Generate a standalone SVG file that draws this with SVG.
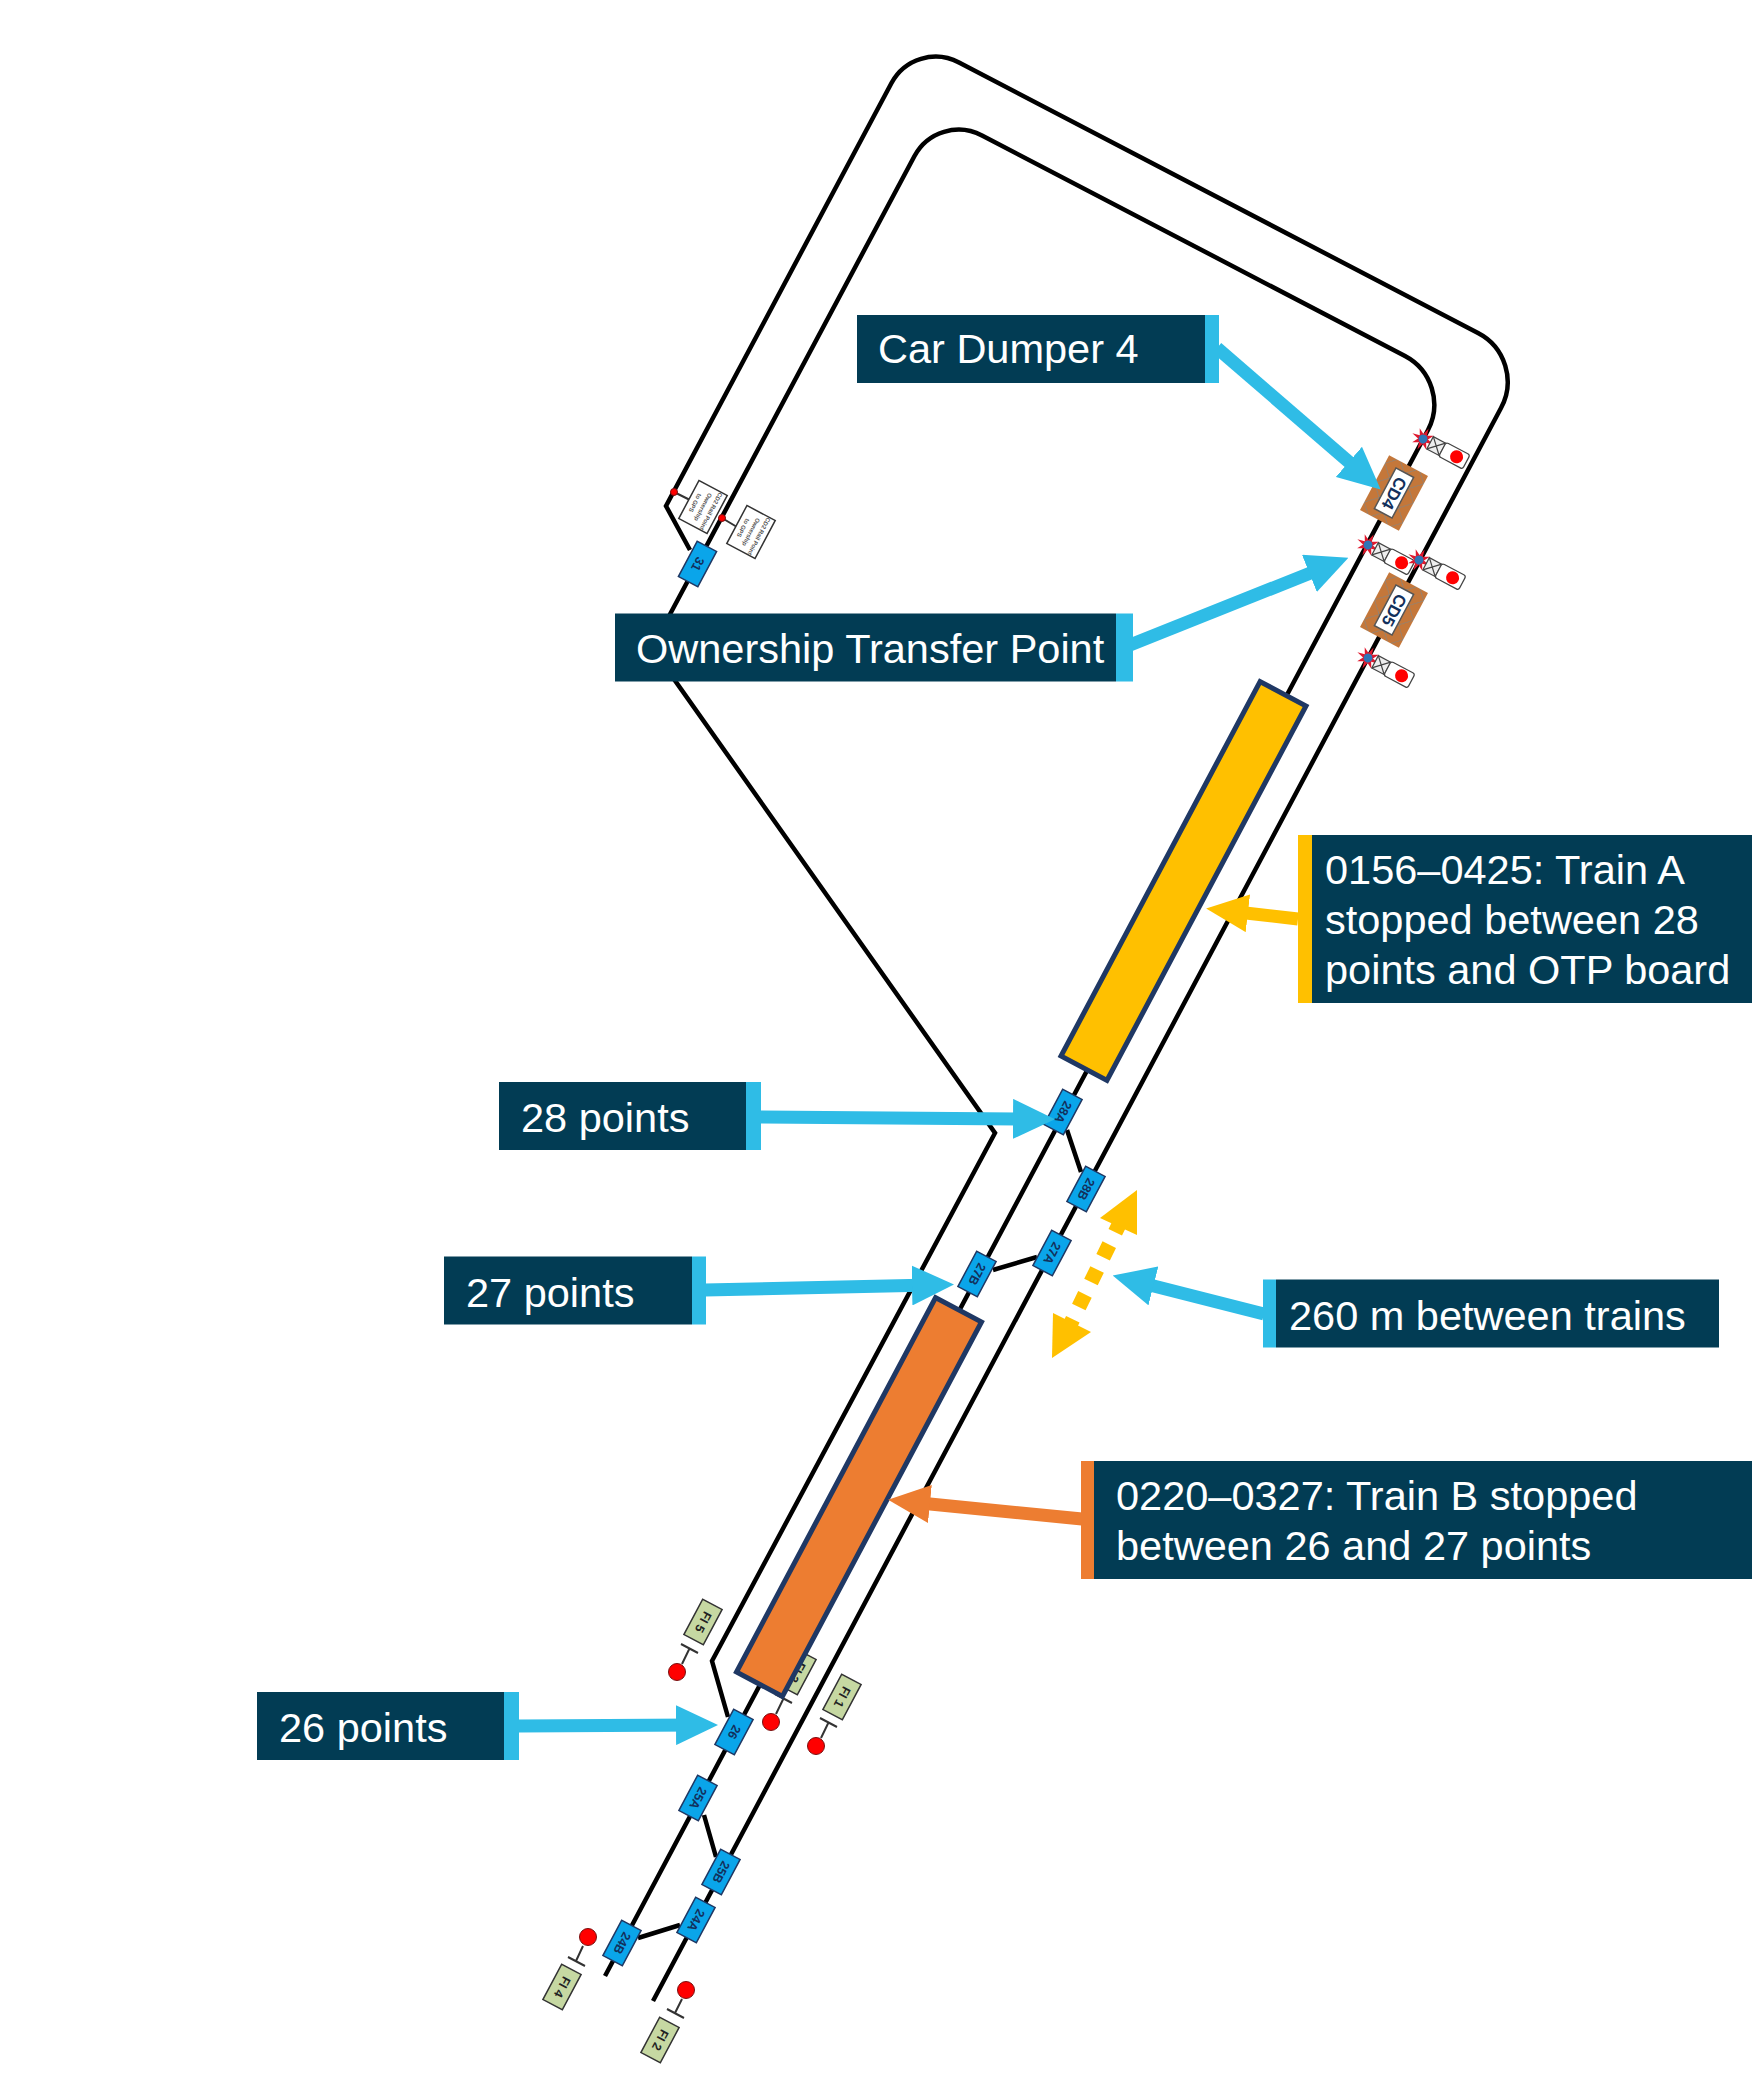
<svg xmlns="http://www.w3.org/2000/svg" width="1754" height="2088" viewBox="0 0 1754 2088">
<style>
.trk{fill:none;stroke:#000;stroke-width:4.5;stroke-linejoin:miter}
.pt rect{fill:#0aa5ea;stroke:#1f3864;stroke-width:1.5}
.pt text{font:bold 12.5px "Liberation Sans",Arial,sans-serif;fill:#12305c;text-anchor:middle;dominant-baseline:central}
.fi rect{fill:#c6d8a2;stroke:#333;stroke-width:1.5}
.fi text{font:bold 12.5px "Liberation Sans",Arial,sans-serif;fill:#222;text-anchor:middle;dominant-baseline:central}
.fil{stroke:#333;stroke-width:2;fill:none}
.dot{fill:#f00;stroke:#7a1010;stroke-width:1}
.sign rect{fill:#fff;stroke:#333;stroke-width:1.5}
.sign text{font:bold 6px "Liberation Sans",Arial,sans-serif;fill:#555;text-anchor:middle}
.cd text{font:bold 17px "Liberation Sans",Arial,sans-serif;fill:#12305c;text-anchor:middle;dominant-baseline:central}
.train{stroke:#1f3864;stroke-width:5}
.bx{fill:#023c54}
.lab{font:41.5px "Liberation Sans",Arial,sans-serif;fill:#fff}
.ab{fill:none;stroke:#2fbce6;stroke-width:13}
.ay{fill:none;stroke:#ffc000;stroke-width:13}
.ao{fill:none;stroke:#ed7d31;stroke-width:13}
</style>
<defs>
<marker id="hb" markerUnits="userSpaceOnUse" markerWidth="42" markerHeight="40" viewBox="0 0 42 40" refX="20" refY="20" orient="auto"><polygon points="0,0 42,20 0,40" fill="#2fbce6"/></marker>
<marker id="hy" markerUnits="userSpaceOnUse" markerWidth="42" markerHeight="38" viewBox="0 0 42 38" refX="20" refY="19" orient="auto"><polygon points="0,0 42,19 0,38" fill="#ffc000"/></marker>
<marker id="ho" markerUnits="userSpaceOnUse" markerWidth="42" markerHeight="38" viewBox="0 0 42 38" refX="20" refY="19" orient="auto"><polygon points="0,0 42,19 0,38" fill="#ed7d31"/></marker>
<pattern id="lat" patternUnits="userSpaceOnUse" width="22" height="22"><rect width="22" height="22" fill="#c4773a"/><path d="M0,0L22,22M22,0L0,22" stroke="#8d8378" stroke-width="1"/></pattern>
<g id="sig">
<polygon points="12,0 4.6,1.9 8,8 1.9,4.6 0,12 -1.9,4.6 -8,8 -4.6,1.9 -12,0 -4.6,-1.900 -8,-8 -1.900,-4.600 0,-12 1.900,-4.600 8,-8 4.600,-1.900" fill="#e0182d"/>
<circle r="4.500" fill="#2e75b6"/>
<rect x="8" y="-7" width="14" height="14" fill="#eee" stroke="#444" stroke-width="1.200"/>
<path d="M8,-7l14,14M22,-7l-14,14" stroke="#444" stroke-width="1.200"/>
<rect x="22" y="-8" width="27" height="16" rx="2.500" fill="#fff" stroke="#444" stroke-width="1.200"/>
<circle cx="38" r="6.500" fill="#f00"/>
</g>
</defs>
<rect width="1754" height="2088" fill="#fff"/>
<g id="tracks">
<path class="trk" d="M690,550L666,506L891.500,83A50,50 0 0 1 959,62.500L1478,333A55,55 0 0 1 1501,408L653,2001"/>
<path class="trk" d="M605,1976L1428,430A55,55 0 0 0 1405,356L982,135.500A50,50 0 0 0 914.500,156L652,648L995,1133L712,1661L728,1717"/>
<path class="trk" d="M1067,1130L1081,1172M993,1270L1037,1257M704,1815L716,1857M638,1938L680,1925"/>
</g>
<g id="node-31-signs">
<path class="fil" d="M674,492L690,500M722,518L737,527"/>
<circle class="dot" cx="674" cy="492" r="3.500"/><circle class="dot" cx="722" cy="518" r="3.500"/>
<g class="sign" transform="translate(703,507) rotate(118)"><rect x="-21.500" y="-16" width="43" height="32"/><text y="-7">CD2 Rail Point</text><text y="2">Ownership</text><text y="11">to GPS</text></g>
<g class="sign" transform="translate(751,532) rotate(118)"><rect x="-21.500" y="-16" width="43" height="32"/><text y="-7">CD2 Rail Point</text><text y="2">Ownership</text><text y="11">to GPS</text></g>
</g>
<g id="node-cd4" class="cd" transform="translate(1394,493) rotate(118)"><rect x="-31" y="-22" width="62" height="44" fill="url(#lat)"/><rect x="-23" y="-10" width="46" height="20" fill="#fff" stroke="#555" stroke-width="1.500"/><text>CD4</text></g>
<g id="node-cd5" class="cd" transform="translate(1394,610) rotate(118)"><rect x="-31" y="-22" width="62" height="44" fill="url(#lat)"/><rect x="-23" y="-10" width="46" height="20" fill="#fff" stroke="#555" stroke-width="1.500"/><text>CD5</text></g>
<use id="signal-1" href="#sig" transform="translate(1423,439) rotate(28)"/>
<use id="signal-2" href="#sig" transform="translate(1368,545) rotate(28)"/>
<use id="signal-3" href="#sig" transform="translate(1419,560) rotate(28)"/>
<use id="signal-4" href="#sig" transform="translate(1368,658) rotate(28)"/>
<g id="fi-5" class="fi"><path class="fil" d="M681,1644L698,1653M689.500,1648.500L682,1664"/><circle class="dot" cx="677" cy="1672" r="8.500"/><g transform="translate(703,1622) rotate(118)"><rect x="-20" y="-11" width="40" height="22"/><text>FI 5</text></g></g>
<g id="fi-3" class="fi"><path class="fil" d="M775,1694L792,1703M783.500,1698.500L776,1714"/><circle class="dot" cx="771" cy="1722" r="8.500"/><g transform="translate(797,1672) rotate(118)"><rect x="-20" y="-11" width="40" height="22"/><text>FI 3</text></g></g>
<g id="fi-1" class="fi"><path class="fil" d="M820,1718L837,1727M828.500,1722.500L821,1738"/><circle class="dot" cx="816" cy="1746" r="8.500"/><g transform="translate(842,1697) rotate(118)"><rect x="-20" y="-11" width="40" height="22"/><text>FI 1</text></g></g>
<g id="fi-4" class="fi"><path class="fil" d="M568,1957L585,1966M576,1961L583,1946"/><circle class="dot" cx="588" cy="1937" r="8.500"/><g transform="translate(562,1987) rotate(118)"><rect x="-20" y="-11" width="40" height="22"/><text>FI 4</text></g></g>
<g id="fi-2" class="fi"><path class="fil" d="M667,2009L684,2018M675,2013L682,1999"/><circle class="dot" cx="686" cy="1990" r="8.500"/><g transform="translate(660,2040) rotate(118)"><rect x="-20" y="-11" width="40" height="22"/><text>FI 2</text></g></g>
<g id="train-a"><rect class="train" x="-212" y="-26" width="424" height="52" transform="translate(1183.500,881) rotate(118)" fill="#ffc000"/></g>
<g id="train-b"><rect class="train" x="-212" y="-26" width="424" height="52" transform="translate(859,1497) rotate(118)" fill="#ed7d31"/></g>
<g id="pt-31" class="pt" transform="translate(697.500,564) rotate(118)"><rect x="-20" y="-11" width="40" height="22"/><text>31</text></g>
<g id="pt-28a" class="pt" transform="translate(1063,1112) rotate(118)"><rect x="-20" y="-11" width="40" height="22"/><text>28A</text></g>
<g id="pt-28b" class="pt" transform="translate(1086,1189) rotate(118)"><rect x="-20" y="-11" width="40" height="22"/><text>28B</text></g>
<g id="pt-27a" class="pt" transform="translate(1052,1253) rotate(118)"><rect x="-20" y="-11" width="40" height="22"/><text>27A</text></g>
<g id="pt-27b" class="pt" transform="translate(977,1274) rotate(118)"><rect x="-20" y="-11" width="40" height="22"/><text>27B</text></g>
<g id="pt-26" class="pt" transform="translate(734,1732) rotate(118)"><rect x="-20" y="-11" width="40" height="22"/><text>26</text></g>
<g id="pt-25a" class="pt" transform="translate(698,1798) rotate(118)"><rect x="-20" y="-11" width="40" height="22"/><text>25A</text></g>
<g id="pt-25b" class="pt" transform="translate(721,1872) rotate(118)"><rect x="-20" y="-11" width="40" height="22"/><text>25B</text></g>
<g id="pt-24a" class="pt" transform="translate(696,1920) rotate(118)"><rect x="-20" y="-11" width="40" height="22"/><text>24A</text></g>
<g id="pt-24b" class="pt" transform="translate(622,1943) rotate(118)"><rect x="-20" y="-11" width="40" height="22"/><text>24B</text></g>
<g id="connectors">
<path class="ab" marker-end="url(#hb)" d="M1217,348L1364,475"/>
<path class="ab" marker-end="url(#hb)" d="M1130,645L1328,566"/>
<path class="ay" marker-end="url(#hy)" d="M1298,919L1228,911"/>
<path class="ab" marker-end="url(#hb)" d="M760,1117L1033,1119"/>
<path class="ab" marker-end="url(#hb)" d="M705,1290L932,1285"/>
<path class="ab" marker-end="url(#hb)" d="M1264,1314L1134,1281"/>
<path class="ao" marker-end="url(#ho)" d="M1082,1519L910,1502"/>
<path class="ab" marker-end="url(#hb)" d="M519,1726L696,1725"/>
<path d="M1121.400,1219.700L1066.600,1332" fill="none" stroke="#ffc000" stroke-width="15" stroke-dasharray="14 13.700"/>
<polygon points="1137,1190 1100,1218 1137,1235" fill="#ffc000"/>
<polygon points="1052,1358 1053,1313 1091,1332" fill="#ffc000"/>
</g>
<g id="label-car-dumper"><rect class="bx" x="857" y="315" width="348" height="68"/><rect x="1205" y="315" width="14" height="68" fill="#2fbce6"/><text class="lab" x="878" y="363">Car Dumper 4</text></g>
<g id="label-otp"><rect class="bx" x="615" y="613.500" width="501" height="68"/><rect x="1116" y="613.500" width="17" height="68" fill="#2fbce6"/><text class="lab" x="636" y="663">Ownership Transfer Point</text></g>
<g id="label-train-a"><rect class="bx" x="1312" y="835" width="440" height="168"/><rect x="1298" y="835" width="14" height="168" fill="#ffc000"/><text class="lab" x="1325" y="884">0156–0425: Train A</text><text class="lab" x="1325" y="934">stopped between 28</text><text class="lab" x="1325" y="984">points and OTP board</text></g>
<g id="label-28"><rect class="bx" x="499" y="1082" width="247" height="68"/><rect x="746" y="1082" width="15" height="68" fill="#2fbce6"/><text class="lab" x="521" y="1132">28 points</text></g>
<g id="label-27"><rect class="bx" x="444" y="1256.500" width="248" height="68"/><rect x="692" y="1256.500" width="14" height="68" fill="#2fbce6"/><text class="lab" x="466" y="1306.500">27 points</text></g>
<g id="label-260"><rect x="1263" y="1279.500" width="13" height="68" fill="#2fbce6"/><rect class="bx" x="1276" y="1279.500" width="443" height="68"/><text class="lab" x="1289" y="1329.500">260 m between trains</text></g>
<g id="label-train-b"><rect x="1081" y="1461" width="13" height="118" fill="#ed7d31"/><rect class="bx" x="1094" y="1461" width="658" height="118"/><text class="lab" x="1116" y="1510">0220–0327: Train B stopped</text><text class="lab" x="1116" y="1560">between 26 and 27 points</text></g>
<g id="label-26"><rect class="bx" x="257" y="1692" width="247" height="68"/><rect x="504" y="1692" width="15" height="68" fill="#2fbce6"/><text class="lab" x="279" y="1742">26 points</text></g>
</svg>
